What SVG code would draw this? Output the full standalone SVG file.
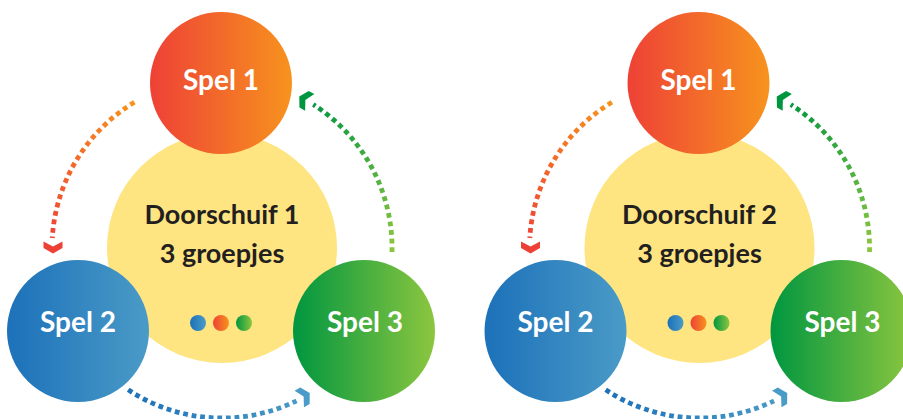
<svg xmlns="http://www.w3.org/2000/svg" xmlns:xlink="http://www.w3.org/1999/xlink" width="903" height="419" viewBox="0 0 903 419">
<defs>
  <linearGradient id="gOrange" x1="0" y1="0" x2="1" y2="0">
    <stop offset="0" stop-color="#ee4136"/>
    <stop offset="1" stop-color="#f7931e"/>
  </linearGradient>
  <linearGradient id="gBlue" x1="0" y1="0" x2="1" y2="0">
    <stop offset="0" stop-color="#1c71b9"/>
    <stop offset="1" stop-color="#4a9bc7"/>
  </linearGradient>
  <linearGradient id="gGreen" x1="0" y1="0" x2="1" y2="0">
    <stop offset="0" stop-color="#009640"/>
    <stop offset="1" stop-color="#8cc63f"/>
  </linearGradient>
  <linearGradient id="aLeft" gradientUnits="userSpaceOnUse" x1="134" y1="102" x2="52" y2="245">
    <stop offset="0" stop-color="#f7931e"/>
    <stop offset="1" stop-color="#ee4136"/>
  </linearGradient>
  <linearGradient id="aRight" gradientUnits="userSpaceOnUse" x1="392" y1="252" x2="305" y2="99">
    <stop offset="0" stop-color="#8cc63f"/>
    <stop offset="1" stop-color="#009640"/>
  </linearGradient>
  <linearGradient id="aBottom" gradientUnits="userSpaceOnUse" x1="128" y1="390" x2="305" y2="396">
    <stop offset="0" stop-color="#1c71b9"/>
    <stop offset="1" stop-color="#4a9bc7"/>
  </linearGradient>
  <polygon id="chev" points="-6,-9.5 -1,0 -6,9.5 0.5,9.5 6,0 0.5,-9.5"/>
</defs>
<style>
  .spel { font-family: Lato, "Open Sans", "Liberation Sans", sans-serif; font-weight: 700; font-size: 28px; fill: #ffffff; text-anchor: middle; }
  .mid { font-family: Lato, "Open Sans", "Liberation Sans", sans-serif; font-weight: 700; font-size: 27px; fill: #231f20; text-anchor: middle; }
  .yellow { fill: #fee581; }
  .dots { fill: none; stroke-width: 4.8; stroke-dasharray: 4.8 3.8; }
</style>

<!-- Diagram 1 -->
<g id="diagram1">
  <g id="d1-center">
    <circle class="yellow" cx="222" cy="248" r="115"/>
    <text class="mid" x="222" y="224">Doorschuif 1</text>
    <text class="mid" x="222" y="263">3 groepjes</text>
    <circle cx="198" cy="323" r="8" fill="url(#gBlue)"/>
    <circle cx="221" cy="323" r="8" fill="url(#gOrange)"/>
    <circle cx="244" cy="323" r="8" fill="url(#gGreen)"/>
  </g>
  <g id="d1-spel1">
    <circle cx="221" cy="83" r="71" fill="url(#gOrange)"/>
    <text class="spel" x="221" y="90">Spel 1</text>
  </g>
  <g id="d1-spel2">
    <circle cx="78" cy="331" r="71" fill="url(#gBlue)"/>
    <text class="spel" x="78" y="332">Spel 2</text>
  </g>
  <g id="d1-spel3">
    <circle cx="364" cy="331" r="71" fill="url(#gGreen)"/>
    <text class="spel" x="365" y="332">Spel 3</text>
  </g>
  <g id="d1-connectors">
    <path class="dots" stroke="url(#aLeft)" d="M 134.4 102.3 A 170 170 0 0 0 52.3 238"/>
    <use xlink:href="#chev" href="#chev" fill="#ee4136" transform="translate(53 247.5) rotate(90)"/>
    <path class="dots" stroke="url(#aRight)" d="M 392 252 A 170 170 0 0 0 313.3 104.6"/>
    <use xlink:href="#chev" href="#chev" fill="#009640" transform="translate(304.5 99.5) rotate(209)"/>
    <path class="dots" stroke="url(#aBottom)" d="M 128.2 389.8 A 170 170 0 0 0 296.5 400.8"/>
    <use xlink:href="#chev" href="#chev" fill="#4a9bc7" transform="translate(304.5 396) rotate(-29.5)"/>
  </g>
</g>

<!-- Diagram 2 -->
<g id="diagram2" transform="translate(477.5 0)">
  <g id="d2-center">
    <circle class="yellow" cx="222" cy="248" r="115"/>
    <text class="mid" x="222" y="224">Doorschuif 2</text>
    <text class="mid" x="222" y="263">3 groepjes</text>
    <circle cx="198" cy="323" r="8" fill="url(#gBlue)"/>
    <circle cx="221" cy="323" r="8" fill="url(#gOrange)"/>
    <circle cx="244" cy="323" r="8" fill="url(#gGreen)"/>
  </g>
  <g id="d2-spel1">
    <circle cx="221" cy="83" r="71" fill="url(#gOrange)"/>
    <text class="spel" x="221" y="90">Spel 1</text>
  </g>
  <g id="d2-spel2">
    <circle cx="78" cy="331" r="71" fill="url(#gBlue)"/>
    <text class="spel" x="78" y="332">Spel 2</text>
  </g>
  <g id="d2-spel3">
    <circle cx="364" cy="331" r="71" fill="url(#gGreen)"/>
    <text class="spel" x="365" y="332">Spel 3</text>
  </g>
  <g id="d2-connectors">
    <path class="dots" stroke="url(#aLeft)" d="M 134.4 102.3 A 170 170 0 0 0 52.3 238"/>
    <use xlink:href="#chev" href="#chev" fill="#ee4136" transform="translate(53 247.5) rotate(90)"/>
    <path class="dots" stroke="url(#aRight)" d="M 392 252 A 170 170 0 0 0 313.3 104.6"/>
    <use xlink:href="#chev" href="#chev" fill="#009640" transform="translate(304.5 99.5) rotate(209)"/>
    <path class="dots" stroke="url(#aBottom)" d="M 128.2 389.8 A 170 170 0 0 0 296.5 400.8"/>
    <use xlink:href="#chev" href="#chev" fill="#4a9bc7" transform="translate(304.5 396) rotate(-29.5)"/>
  </g>
</g>
</svg>
